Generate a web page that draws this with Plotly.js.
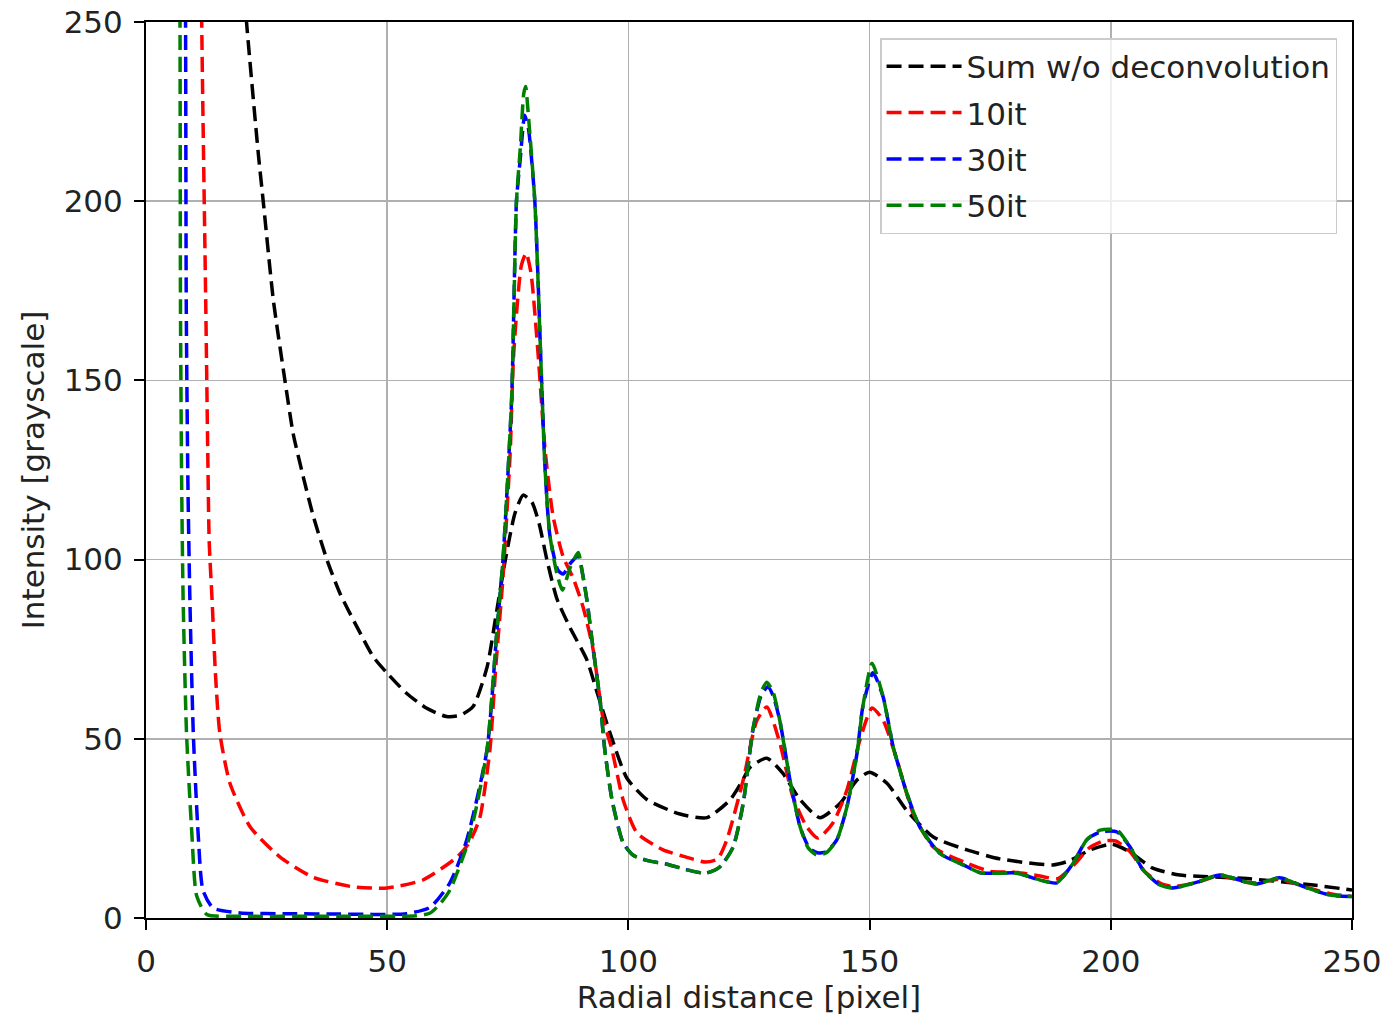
<!DOCTYPE html>
<html>
<head>
<meta charset="utf-8">
<script src="https://cdn.plot.ly/plotly-3.0.1.min.js"></script>
<style>html,body{margin:0;padding:0;background:#fff;}#chart{width:1389px;height:1019px;}</style>
</head>
<body>
<div id="chart"></div>
<script>
// Series names
const seriesNames = ["Sum w/o deconvolution", "10it", "30it", "50it"];
const seriesColors = ["#000000", "#ff0000", "#0000ff", "#008000"];

// Sum w/o deconvolution
const sumX = [18, 20.9, 23.3, 24.3, 26.4, 28.8, 30.5, 32.6, 34.7, 37.5, 40.2, 43.7, 47.1, 50, 54, 58.2, 62.3, 65, 67.8, 70.7, 72.5, 74.5, 76.5, 78.2, 80, 81.5, 83.1, 85.2, 87.9, 91.4, 93.5, 96.2, 99.7, 103.9, 110.7, 116.3, 121.1, 123.5, 125.2, 128.7, 132, 135.6, 139.7, 143.9, 147.4, 150, 153.6, 157.7, 163.2, 170.2, 177, 188, 191.5, 195.7, 200.2, 204, 208.7, 214.3, 228.2, 242, 250];
const sumY = [300, 249, 213, 200, 172.4, 150, 135.2, 123.1, 112, 100, 90.6, 81.3, 72.9, 68.3, 62.7, 58.5, 56.2, 56.5, 59, 70, 84, 100, 113, 118, 116, 110, 100, 89, 81, 72, 63, 51.6, 39, 33, 29, 28, 33, 38, 42, 44.6, 40.4, 33, 28, 32, 38.5, 40.7, 37.6, 30, 22.6, 19, 16.5, 14.8, 16, 19, 20.6, 18.4, 13.9, 12, 11, 9.2, 7.8];

// 10 iterations
const it10X = [11.2, 11.55, 12.4, 12.8, 13.1, 13.7, 14.4, 15.3, 17.4, 21.6, 27.8, 34.6, 42.9, 50, 57.4, 64.5, 67, 69.2, 71.3, 72.5, 74, 75.5, 76.2, 77.8, 78.8, 79.8, 81.3, 82.7, 84.4, 86.5, 88.5, 90.6, 92.7, 94.7, 96.6, 98.9, 101.8, 107.2, 112, 116, 118.5, 120.4, 123.8, 126.6, 128.7, 131.4, 134.1, 137, 139.3, 142.4, 145.3, 148, 150.5, 152.8, 155.7, 159, 163.2, 170.2, 175, 180, 185, 189, 192.5, 195.5, 198.5, 201, 204, 207, 210.5, 213, 218, 222.6, 228, 230.5, 235, 240.7, 245.4, 250];
const it10Y = [320, 250, 170, 130, 105, 88.7, 68, 51.6, 37.6, 25.4, 17, 11.4, 8.7, 8.4, 10.6, 17, 21, 28, 47, 70, 95, 130, 157, 182, 185.5, 180, 157, 131, 112, 100.7, 95, 86.8, 74.8, 56, 46.9, 33, 23.7, 19, 17, 15.6, 16.5, 21.8, 38.5, 55, 58.9, 48.8, 33.8, 25.4, 22.3, 26.5, 35.7, 49.7, 58.6, 55.2, 44, 29.3, 19.8, 15.3, 13, 12.8, 11.8, 11, 15, 19.5, 21.5, 21.5, 18.5, 13, 9.5, 8.8, 10, 11.8, 10, 9.8, 10.8, 8.5, 6.8, 6];

// 30 iterations
const it30X = [7.9, 8.2, 8.35, 8.7, 9.1, 9.8, 10.8, 11.8, 13.9, 19.5, 30, 40, 54, 58.9, 63, 66.5, 70.7, 72.7, 74, 75.8, 76.8, 77.6, 78.5, 79.3, 80.6, 82, 82.7, 83.7, 85.4, 86.5, 88, 89.6, 90.5, 91.4, 92.7, 94.1, 95.1, 96.6, 98.9, 101, 104, 108, 112, 116, 119, 121.7, 123.8, 125.8, 127.5, 128.9, 130, 131.4, 133.5, 135.6, 137.5, 139.2, 141, 143.2, 145.3, 147.4, 148.6, 150.7, 152.8, 154.9, 157.7, 160.4, 164.6, 170.2, 173, 177, 179.7, 182, 185.3, 188.8, 192.2, 195, 197.8, 201.3, 204, 206.7, 210.2, 212.9, 217.9, 222.6, 228.2, 230.3, 235, 240.7, 245.4, 250];
const it30Y = [320, 250, 170, 120, 88.7, 51.6, 23.7, 7.8, 2.8, 1.4, 1.2, 1.1, 1.2, 3, 9.8, 21.8, 47, 79.5, 100, 145, 200, 212, 224, 220, 200, 150, 126, 107, 97, 96, 99, 101, 96, 88.7, 75, 61, 47, 33, 21, 17.5, 16, 15, 13.5, 12.5, 14.3, 19.8, 32, 52.5, 62, 64.5, 62, 55, 38.5, 25.4, 19.5, 18.2, 18.5, 21.8, 31, 46, 59, 68.4, 61.7, 47.7, 34.9, 25.4, 18, 14.3, 12.6, 12.5, 12.6, 12, 10.6, 9.8, 15.3, 21.8, 24, 24, 19.8, 13.4, 9.2, 8.4, 10, 12, 10, 9.5, 11.2, 8.4, 6.4, 6];

// 50 iterations
const it50X = [6.8, 7.05, 7.15, 7.4, 7.7, 8.4, 9.5, 10.5, 12.6, 20, 40, 56, 58.9, 61, 63, 66.5, 68.5, 70.7, 72.7, 74, 75.8, 76.8, 77.6, 78.3, 78.7, 79.2, 80.6, 82, 82.7, 83.7, 85.2, 86.3, 88, 89.6, 90.5, 91.4, 92.7, 94.1, 95.1, 96.6, 98.9, 101, 104, 108, 112, 116, 119, 121.7, 123.8, 125.8, 127.5, 128.7, 130, 131.4, 133.5, 135.6, 137.3, 139, 141, 143.2, 145.3, 147.4, 148.6, 150.5, 152.8, 154.9, 157.7, 160.4, 164.6, 170.2, 173, 177, 179.7, 182, 185.3, 188.8, 192.2, 195, 197.8, 201.3, 204, 206.7, 210.2, 212.9, 217.9, 222.6, 228.2, 230.3, 235, 240.7, 245.4, 250];
const it50Y = [320, 250, 170, 120, 88.7, 51.6, 23.7, 6.2, 1, 0.5, 0.5, 0.6, 1.4, 4, 7.8, 20, 31, 47, 79.5, 100, 145, 200, 215, 230, 232, 225, 200, 150, 126, 107, 96, 91.5, 98, 102, 96, 88.7, 75, 61, 47, 33, 21, 17.5, 16, 15, 13.5, 12.5, 14.3, 19.8, 32, 52.5, 63, 65.8, 63, 55, 38.5, 25.4, 19.5, 17.6, 18.2, 21.8, 31, 46, 59, 71.1, 61.7, 47.7, 34.9, 25.4, 18, 14.3, 12.6, 12.5, 12.6, 12, 10.6, 9.8, 15.3, 21.8, 24.5, 24.5, 19.8, 13.4, 9.2, 8.4, 10, 12, 10, 9.5, 11.2, 8.4, 6.4, 6];

// Axis ticks
const xTicks = [0, 50, 100, 150, 200, 250];
const yTicks = [0, 50, 100, 150, 200, 250];

const xs = [sumX, it10X, it30X, it50X];
const ys = [sumY, it10Y, it30Y, it50Y];

const traces = seriesNames.map((name, i) => ({
  type: "scatter",
  mode: "lines",
  name: name,
  x: xs[i],
  y: ys[i],
  legendgroup: "g" + i,
  line: {color: seriesColors[i], width: 3.5, dash: "15px,7px", shape: "spline", smoothing: 0.6}
}));

const font = {family: "DejaVu Sans, sans-serif", size: 31, color: "#222"};

const axisCommon = {
  showline: true, mirror: true, linecolor: "#000", linewidth: 2,
  ticks: "outside", ticklen: 10, tickwidth: 2, tickcolor: "#000",
  showgrid: true, gridcolor: "#b0b0b0", gridwidth: 1.5,
  zeroline: false, tickfont: font, ticklabelstandoff: 5
};

const layout = {
  width: 1389, height: 1019,
  margin: {l: 146, r: 37, t: 22, b: 101},
  paper_bgcolor: "#fff", plot_bgcolor: "#fff",
  font: font,
  showlegend: true,
  xaxis: Object.assign({}, axisCommon, {
    range: [0, 250], tickvals: xTicks, ticktext: xTicks.map(String),
    title: {text: "Radial distance [pixel]", font: font, standoff: 4}
  }),
  yaxis: Object.assign({}, axisCommon, {
    range: [0, 250], tickvals: yTicks, ticktext: yTicks.map(String),
    title: {text: "Intensity [grayscale]", font: font, standoff: 10}
  }),
  legend: {
    x: 0.9876, y: 0.982, xanchor: "right", yanchor: "top",
    bgcolor: "rgba(255,255,255,0.8)", bordercolor: "#cccccc", borderwidth: 1.5,
    font: font, itemwidth: 75, tracegroupgap: 3, traceorder: "grouped"
  }
};

Plotly.newPlot("chart", traces, layout, {displayModeBar: false, staticPlot: true});
</script>
</body>
</html>
